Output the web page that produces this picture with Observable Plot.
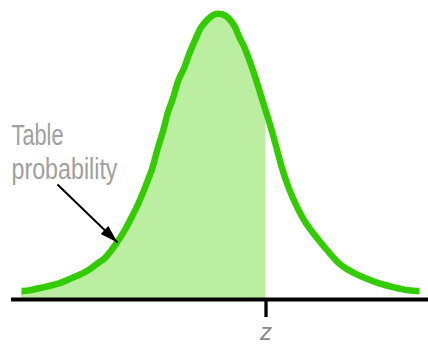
<!DOCTYPE html>
<html>
<head>
<meta charset="utf-8">
<script src="https://cdn.jsdelivr.net/npm/d3@7"></script>
<script src="https://cdn.jsdelivr.net/npm/@observablehq/plot@0.6"></script>
<style>
  html, body { margin: 0; padding: 0; background: #fff; }
  #chart { width: 428px; height: 347px; }
</style>
</head>
<body>
<div id="chart"></div>
<script>
// Density curve, sampled along the standard-score axis
const curveX = [-4.094, -3.948, -3.615, -3.281, -3.115, -2.969, -2.823, -2.677, -2.594, -2.490,
  -2.344, -2.115, -1.927, -1.781, -1.656, -1.552, -1.448, -1.365, -1.302, -1.240,
  -1.156, -1.094, -1.031, -0.948, -0.885, -0.823, -0.698, -0.635, -0.510, -0.427,
  -0.365, -0.240, -0.094, 0.094, 0.219, 0.365, 0.427, 0.531, 0.635, 0.781,
  0.906, 1.0, 1.052, 1.198, 1.323, 1.469, 1.656, 1.823, 2.052, 2.240,
  2.385, 2.510, 2.656, 2.885, 3.135, 3.344, 3.635, 3.990, 4.198];
const curveY = [0.012, 0.012, 0.0175, 0.0224, 0.028, 0.0322, 0.0364, 0.042, 0.0462, 0.0517,
  0.0573, 0.0783, 0.0979, 0.1175, 0.1343, 0.151, 0.1692, 0.1832, 0.2, 0.2154,
  0.2322, 0.249, 0.2657, 0.2783, 0.2937, 0.3091, 0.3231, 0.3385, 0.358, 0.3706,
  0.3804, 0.3902, 0.4, 0.4, 0.3944, 0.3818, 0.3678, 0.3566, 0.3385, 0.3105,
  0.2825, 0.263, 0.2517, 0.2182, 0.1846, 0.1552, 0.1273, 0.1063, 0.0867, 0.0713,
  0.0601, 0.0503, 0.0434, 0.035, 0.028, 0.0224, 0.0175, 0.012, 0.012];

// The cutoff value marked on the axis
const zValue = 1.0;
const zLabel = "z";

// Annotation text and its arrow
const noteLines = ["Table", "probability"];
const noteX = [-4.302, -4.302];
const noteY = [0.2154, 0.1692];
const arrowFrom = [-3.344, 0.1608];
const arrowTo = [-2.094, 0.0797];

const curve = curveX.map((x, i) => ({x, y: curveY[i]}));
const shaded = curve.filter(d => d.x <= zValue);
const notes = noteLines.map((text, i) => ({text, x: noteX[i], y: noteY[i]}));
const arrow = [{x1: arrowFrom[0], y1: arrowFrom[1], x2: arrowTo[0], y2: arrowTo[1]}];

const green = "#33cc00";
const paleGreen = "#bbeea1";
const noteWidths = [52, 106];

const chart = Plot.plot({
  width: 428,
  height: 347,
  marginTop: 13,
  marginBottom: 48,
  marginLeft: 11,
  marginRight: 0,
  style: {background: "#fff", fontFamily: "'Liberation Sans', Arial, sans-serif", overflow: "visible"},
  x: {domain: [-4.302, 4.385], axis: null},
  y: {domain: [0, 0.4], axis: null},
  marks: [
    Plot.areaY(shaded, {x: "x", y: "y", fill: paleGreen, curve: "basis"}),
    Plot.line(curve, {x: "x", y: "y", stroke: green, strokeWidth: 6.5, strokeLinecap: "butt", strokeLinejoin: "round", curve: "basis"}),
    Plot.ruleY([0], {stroke: "#000", strokeWidth: 4}),
    Plot.axisX({
      ticks: [zValue],
      tickFormat: () => zLabel,
      tickSize: 18,
      tickPadding: 5,
      strokeWidth: 3.3,
      stroke: "#000",
      fill: "#8a8a8a",
      fontSize: 24,
      fontStyle: "italic",
      label: null
    }),
    Plot.text(notes, {x: "x", y: "y", text: "text", textAnchor: "start", lineAnchor: "bottom", fontSize: 30, fill: "#a0a0a0"}),
    Plot.link(arrow, {x1: "x1", y1: "y1", x2: "x2", y2: "y2", stroke: "#000", strokeWidth: 2}),
    Plot.vector(arrow, {x: "x2", y: "y2", length: 18, r: 5.5, rotate: 134, anchor: "end", shape: "spike", fill: "#000", stroke: "none"})
  ]
});

// Squeeze the note lines horizontally to their set widths
d3.select(chart).selectAll('g[aria-label="text"] text').each(function (d, i) {
  this.setAttribute("textLength", noteWidths[i]);
  this.setAttribute("lengthAdjust", "spacingAndGlyphs");
});

document.getElementById("chart").appendChild(chart);
</script>
</body>
</html>
